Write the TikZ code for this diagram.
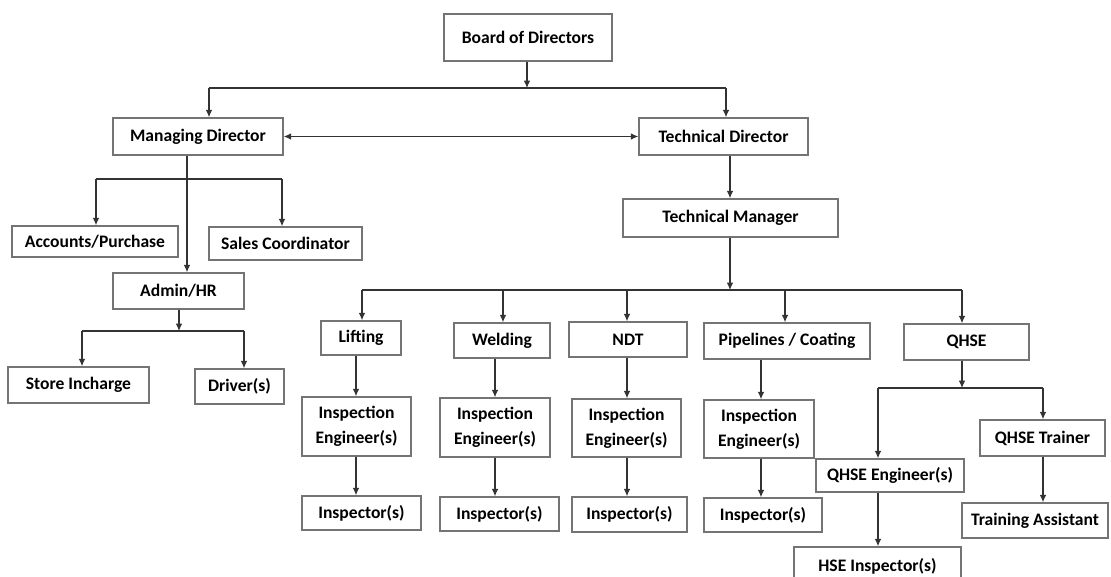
\documentclass[tikz,border=0pt]{standalone}
\usepackage{fontspec}
\setmainfont{Carlito}
\usepackage{tikz}
\usetikzlibrary{arrows.meta, positioning}
\definecolor{linegray}{HTML}{333333}
\definecolor{boxgray}{HTML}{747474}

\begin{document}
\begin{tikzpicture}[x=0.02cm, y=-0.02cm,
    orgbox/.style = {draw=boxgray, line width=0.8pt, fill=white,
      font=\fontsize{10}{12}\selectfont\bfseries, align=center,
      inner sep=1pt},
    wh/.style 2 args = {minimum width=#1*0.02cm, minimum height=#2*0.02cm},
    link/.style = {draw=linegray, line width=0.7pt},
    arr/.style  = {link, -{Latex[length=4.2pt,width=3.8pt]}},
    darr/.style = {link, {Latex[length=4.2pt,width=3.8pt]}-{Latex[length=4.2pt,width=3.8pt]}},
  ]
  \clip (0,0) rectangle (1111,576);
  \fill[white] (0,0) rectangle (1111,576);

  % top level
  \node[orgbox, wh={168}{47}] (board) at (528,37.5) {Board of Directors};
  \node[orgbox, wh={170}{37}] (md) at (198,136.5) {Managing Director};
  \node[orgbox, wh={169}{37}] (td) at (723.5,136.5) {Technical Director};
  \node[orgbox, wh={215}{38}] (tm) at (730.5,218) {Technical Manager};

  % admin side
  \node[orgbox, wh={166}{31}] (acc)    at (95,241.5)   {Accounts/Purchase};
  \node[orgbox, wh={153}{33}] (sales)  at (285.5,243.5) {Sales Coordinator};
  \node[orgbox, wh={131}{36}] (admin)  at (178.5,291)  {Admin/HR};
  \node[orgbox, wh={141}{36}] (store)  at (78.5,385)   {Store Incharge};
  \node[orgbox, wh={89}{35}]  (driver) at (239.5,386.5) {Driver(s)};

  % technical departments
  \node[orgbox, wh={80}{34}]  (lift) at (361,338)   {Lifting};
  \node[orgbox, wh={96}{35}]  (weld) at (502,340.5) {Welding};
  \node[orgbox, wh={118}{35}] (ndt)  at (628,339.5) {NDT};
  \node[orgbox, wh={166}{36}] (pipe) at (787,341)   {Pipelines / Coating};
  \node[orgbox, wh={125}{36}] (qhse) at (966.5,342) {QHSE};

  \node[orgbox, wh={109}{59}] (engLift) at (356.5,426.5) {Inspection\\[2pt]Engineer(s)};
  \node[orgbox, wh={110}{59}] (engWeld) at (495,427.5)   {Inspection\\[2pt]Engineer(s)};
  \node[orgbox, wh={109}{58}] (engNdt)  at (626.5,428)   {Inspection\\[2pt]Engineer(s)};
  \node[orgbox, wh={110}{58}] (engPipe) at (759,429)     {Inspection\\[2pt]Engineer(s)};

  \node[orgbox, wh={119}{34}] (insLift) at (361.5,513) {Inspector(s)};
  \node[orgbox, wh={119}{34}] (insWeld) at (499.5,514) {Inspector(s)};
  \node[orgbox, wh={115}{35}] (insNdt)  at (629.5,514.5) {Inspector(s)};
  \node[orgbox, wh={118}{34}] (insPipe) at (763,515)   {Inspector(s)};

  \node[orgbox, wh={148}{33}] (qeng)    at (890,475.5)  {QHSE Engineer(s)};
  \node[orgbox, wh={125}{36}] (qtrain)  at (1042.5,438) {QHSE Trainer};
  \node[orgbox, wh={146}{35}] (tassist) at (1035,520.5) {Training Assistant};
  \node[orgbox, wh={167}{38}] (hse)     at (877.5,566)  {HSE Inspector(s)};

  % junctions
  \coordinate (jBoard) at (527,88);
  \coordinate (jMd)    at (187,179);
  \coordinate (jAdmin) at (179,331);
  \coordinate (jTm)    at (730,290);
  \coordinate (jQhse)  at (962,388);

  % board level
  \draw[arr] (board.south -| jBoard) -- (jBoard);
  \draw[link] (209,88) -- (726,88);
  \draw[arr] (209,88) -- (md.north -| 209,0);
  \draw[arr] (726,88) -- (td.north -| 726,0);
  \draw[darr] (md) -- (td);

  % managing director
  \draw[arr] (md.south -| jMd) -- (admin.north -| jMd);
  \draw[link] (96,179) -- (282,179);
  \draw[arr] (96,179) -- (acc.north -| 96,0);
  \draw[arr] (282,179) -- (sales.north -| 282,0);
  \draw[arr] (admin.south -| jAdmin) -- (jAdmin);
  \draw[link] (82,331) -- (244,331);
  \draw[arr] (82,331) -- (store.north -| 82,0);
  \draw[arr] (244,331) -- (driver.north -| 244,0);

  % technical director
  \draw[arr] (td.south -| jTm) -- (tm.north -| jTm);
  \draw[arr] (tm.south -| jTm) -- (jTm);
  \draw[link] (362,290) -- (962,290);
  \foreach \xx/\dep in {362/lift, 503/weld, 627/ndt, 785/pipe, 962/qhse}
    \draw[arr] (\xx,290) -- (\dep.north -| \xx,0);

  \foreach \dep/\eng/\ins/\xx in {lift/engLift/insLift/356, weld/engWeld/insWeld/495,
                                  ndt/engNdt/insNdt/627, pipe/engPipe/insPipe/761}{
    \draw[arr] (\dep.south -| \xx,0) -- (\eng.north -| \xx,0);
    \draw[arr] (\eng.south -| \xx,0) -- (\ins.north -| \xx,0);
  }

  % qhse
  \draw[arr] (qhse.south -| jQhse) -- (jQhse);
  \draw[link] (878,388) -- (1043,388);
  \draw[arr] (878,388) -- (qeng.north -| 878,0);
  \draw[arr] (1043,388) -- (qtrain.north -| 1043,0);
  \draw[arr] (qeng.south -| 878,0) -- (hse.north -| 878,0);
  \draw[arr] (qtrain.south -| 1043,0) -- (tassist.north -| 1043,0);
\end{tikzpicture}
\end{document}
